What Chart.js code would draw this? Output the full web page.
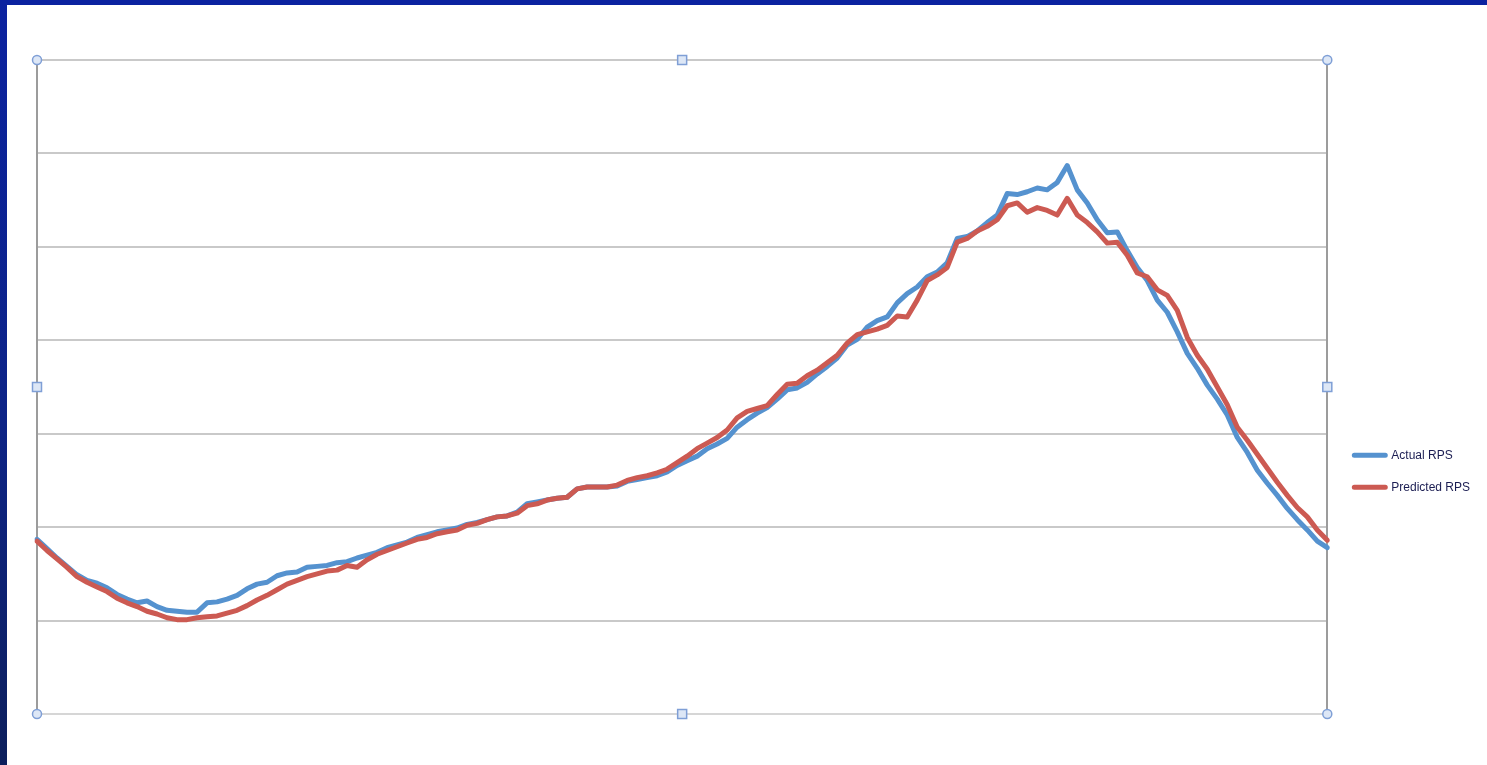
<!DOCTYPE html>
<html>
<head>
<meta charset="utf-8">
<script src="https://cdn.jsdelivr.net/npm/chart.js@4"></script>
<style>
  html, body { margin: 0; padding: 0; background: #ffffff; }
  #wrap { position: absolute; left: 0; top: 0; width: 1487px; height: 765px; background: #ffffff; }
  #topbar { position: absolute; left: 0; top: 0; width: 1487px; height: 5px; background: #0b22a0; }
  #leftbar { position: absolute; left: 0; top: 0; width: 7px; height: 765px; background: linear-gradient(to bottom, #0b22a0 0%, #0c2386 55%, #0c1f5c 100%); }
</style>
</head>
<body>
<div id="wrap">
  <canvas id="c" width="1487" height="765"></canvas>
  <div id="topbar"></div>
  <div id="leftbar"></div>
</div>
<script>
// Sample index along the time axis (evenly spaced readings)
const categories = Array.from({length: 130}, (_, i) => String(i + 1));

const actualRPS = [
  187, 177, 167, 158, 149, 143, 140, 135, 128, 123,
  119, 121, 115, 111, 110, 109, 109, 119, 120, 123,
  127, 134, 139, 141, 148, 151, 152, 157, 158, 159,
  162, 163, 167, 170, 173, 178, 181, 184, 189, 192,
  195, 197, 199, 203, 205, 208, 211, 212, 216, 225,
  227, 229, 231, 232, 241, 243, 243, 243, 244, 249,
  251, 253, 255, 259, 266, 271, 276, 284, 289, 295,
  307, 315, 322, 328, 337, 347, 349, 355, 364, 372,
  381, 395, 401, 414, 421, 425, 440, 450, 457, 468,
  473, 483, 509, 511, 517, 526, 534, 557, 556, 559,
  563, 561, 569, 587, 561, 547, 529, 515, 516, 496,
  478, 464, 443, 430, 409, 386, 370, 352, 337, 320,
  296, 280, 261, 247, 234, 220, 208, 197, 185, 178
];

const predictedRPS = [
  185, 175, 166, 157, 147, 141, 136, 131, 124, 119,
  115, 110, 107, 103, 101, 101, 103, 104, 105, 108,
  111, 116, 122, 127, 133, 139, 143, 147, 150, 153,
  154, 159, 157, 165, 171, 175, 179, 183, 187, 189,
  193, 195, 197, 202, 204, 208, 211, 212, 215, 223,
  225, 229, 231, 232, 241, 243, 243, 243, 245, 250,
  253, 255, 258, 262, 269, 276, 284, 290, 296, 304,
  317, 324, 327, 330, 342, 353, 354, 362, 368, 376,
  384, 397, 406, 409, 412, 416, 426, 425, 443, 464,
  470, 478, 505, 509, 517, 522, 529, 544, 547, 537,
  542, 539, 534, 552, 534, 526, 516, 504, 505, 491,
  472, 468, 454, 448, 432, 403, 384, 369, 350, 331,
  307, 293, 278, 263, 248, 234, 221, 211, 197, 186
];

const seriesNames = ['Actual RPS', 'Predicted RPS'];

// Selection handles around the plot area (chart-object decoration)
const handlesPlugin = {
  id: 'handles',
  afterDraw(chart) {
    const {ctx, chartArea: a} = chart;
    const mx = (a.left + a.right) / 2, my = (a.top + a.bottom) / 2;
    ctx.save();
    ctx.fillStyle = '#dde7f6';
    ctx.strokeStyle = '#7f9fd6';
    ctx.lineWidth = 1.5;
    [[a.left, a.top], [a.right, a.top], [a.left, a.bottom], [a.right, a.bottom]].forEach(([x, y]) => {
      ctx.beginPath(); ctx.arc(x, y, 4.5, 0, Math.PI * 2); ctx.fill(); ctx.stroke();
    });
    [[mx, a.top], [mx, a.bottom], [a.left, my], [a.right, my]].forEach(([x, y]) => {
      ctx.beginPath(); ctx.rect(x - 4.5, y - 4.5, 9, 9); ctx.fill(); ctx.stroke();
    });
    ctx.restore();
  }
};

new Chart(document.getElementById('c'), {
  type: 'line',
  data: {
    labels: categories,
    datasets: [
      { label: seriesNames[0], data: actualRPS, borderColor: '#5592cf', backgroundColor: '#5592cf', order: 1,
        borderWidth: 5, pointRadius: 0, tension: 0, borderJoinStyle: 'round', borderCapStyle: 'round' },
      { label: seriesNames[1], data: predictedRPS, borderColor: '#cc5a52', backgroundColor: '#cc5a52', order: 0,
        borderWidth: 5, pointRadius: 0, tension: 0, borderJoinStyle: 'round', borderCapStyle: 'round' }
    ]
  },
  options: {
    responsive: false,
    animation: false,
    layout: { padding: { left: 37, top: 60, bottom: 43, right: 7 } },
    plugins: {
      legend: {
        position: 'right',
        align: 'center',
        title: { display: true, text: ' ', padding: { top: 40, bottom: 106 }, font: { size: 12 } },
        labels: {
          boxWidth: 31, boxHeight: 0, padding: 20,
          color: '#1b1d52',
          font: { family: '"Liberation Sans", Arial, sans-serif', size: 12 },
          sort: (a, b) => a.datasetIndex - b.datasetIndex
        }
      },
      tooltip: { enabled: false }
    },
    scales: {
      x: {
        display: true,
        offset: false,
        grid: { display: false },
        border: { display: true, color: '#d6d6d6', width: 2 },
        ticks: { display: false }
      },
      y: {
        min: 0, max: 700,
        ticks: { display: false, stepSize: 100 },
        grid: { color: '#c9c9c9', lineWidth: 2, drawTicks: false },
        border: { display: true, color: '#9c9c9c', width: 2 }
      },
      yR: {
        position: 'right',
        min: 0, max: 700,
        ticks: { display: false },
        grid: { display: false, drawTicks: false },
        border: { display: true, color: '#9c9c9c', width: 2 },
        afterFit(scale) { scale.width += 7; }
      }
    }
  },
  plugins: [handlesPlugin]
});
</script>
</body>
</html>
